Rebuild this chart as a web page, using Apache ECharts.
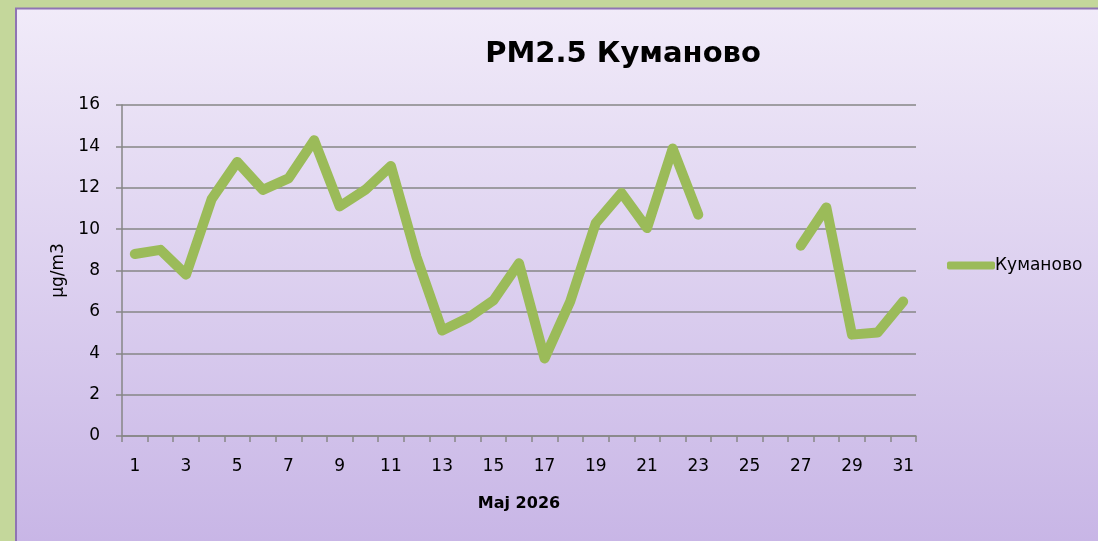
<!DOCTYPE html>
<html>
<head>
<meta charset="utf-8">
<script src="https://cdn.jsdelivr.net/npm/echarts@6/dist/echarts.min.js"></script>
<style>
html,body{margin:0;padding:0;width:1098px;height:541px;overflow:hidden;}
#c{width:1098px;height:541px;}
</style>
</head>
<body>
<div id="c"></div>
<script>
const days = ['1','2','3','4','5','6','7','8','9','10','11','12','13','14','15','16','17','18','19','20','21','22','23','24','25','26','27','28','29','30','31'];
const kumanovo = [8.8, 9.0, 7.8, 11.45, 13.25, 11.9, 12.45, 14.3, 11.1, 11.9, 13.05, 8.65, 5.1, 5.7, 6.55, 8.35, 3.75, 6.5, 10.3, 11.75, 10.05, 13.9, 10.7, null, null, null, 9.2, 11.05, 4.9, 5.0, 6.5];
const seriesName = 'Куманово';
const titleText = 'PM2.5 Куманово';
const xName = 'Maj 2026';
const yName = 'µg/m3';

const font = '"DejaVu Sans", sans-serif';
const chart = echarts.init(document.getElementById('c'), null, {renderer:'canvas'});
chart.setOption({
  backgroundColor: '#c4d79b',
  animation: false,
  graphic: [{
    type: 'rect', z: -10, silent: true,
    shape: {x: 16, y: 8.5, width: 1100, height: 560},
    style: {
      fill: new echarts.graphic.LinearGradient(0, 0, 0, 1, [
        {offset: 0, color: '#f1ebf9'},
        {offset: 1, color: '#c6b3e5'}
      ]),
      stroke: '#8f74b4', lineWidth: 2
    }
  }],
  title: {
    text: titleText, left: 618, top: 35, textAlign: 'center',
    textStyle: {fontFamily: font, fontSize: 29, fontWeight: 'bold', color: '#000'}
  },
  legend: {
    data: [seriesName], left: 942, top: 252, orient: 'vertical',
    icon: 'roundRect', itemWidth: 48, itemHeight: 8, itemGap: 0,
    textStyle: {fontFamily: font, fontSize: 17, color: '#000', padding: [0,0,0,-5]}
  },
  grid: {left: 122, right: 182, top: 105, bottom: 105, containLabel: false},
  xAxis: {
    type: 'category', data: days, boundaryGap: true,
    name: xName, nameLocation: 'middle', nameGap: 60,
    nameTextStyle: {fontFamily: font, fontSize: 16, fontWeight: 'bold', color: '#000'},
    axisLine: {lineStyle: {color: '#868686', width: 1.5}},
    axisTick: {show: true, interval: 0, length: 6, lineStyle: {color: '#868686', width: 1.5}},
    axisLabel: {interval: 1, fontFamily: font, fontSize: 17, color: '#000', margin: 22}
  },
  yAxis: {
    type: 'value', min: 0, max: 16, interval: 2,
    name: yName, nameLocation: 'middle', nameGap: 54, nameRotate: 90,
    nameTextStyle: {fontFamily: font, fontSize: 17, color: '#000'},
    axisLine: {show: true, lineStyle: {color: '#868686', width: 1.5}},
    axisTick: {show: true, length: 6, lineStyle: {color: '#868686', width: 1.5}},
    axisLabel: {fontFamily: font, fontSize: 17, color: '#000', margin: 22},
    splitLine: {lineStyle: {color: '#868686', width: 1.5}}
  },
  series: [{
    name: seriesName, type: 'line', data: kumanovo,
    showSymbol: false, symbol: 'none', connectNulls: false,
    lineStyle: {color: '#9bbb59', width: 10, cap: 'round', join: 'round'},
    itemStyle: {color: '#9bbb59'}
  }]
});
</script>
</body>
</html>
